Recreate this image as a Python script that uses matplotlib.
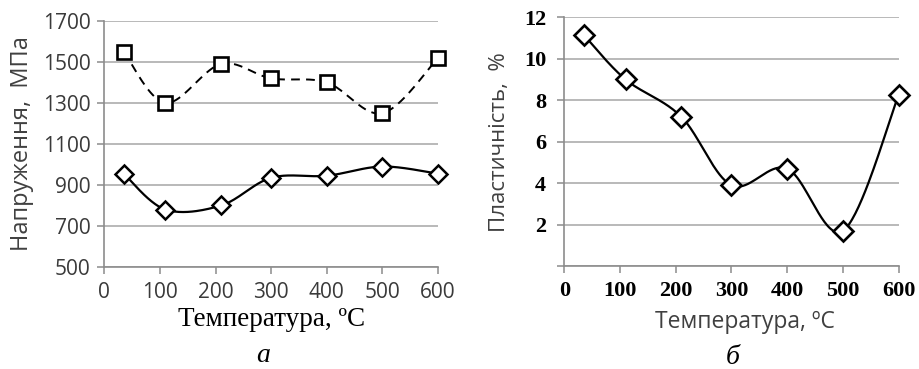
import numpy as np
import matplotlib
matplotlib.use("Agg")
import matplotlib.pyplot as plt

# ---- data ----
temps = [35, 110, 210, 300, 400, 500, 600]
strength_upper = [1550, 1300, 1490, 1420, 1400, 1250, 1520]
strength_lower = [955, 780, 800, 935, 945, 990, 955]
plasticity = [11.15, 9.0, 7.2, 3.9, 4.7, 1.7, 8.25]

x_ticks = [0, 100, 200, 300, 400, 500, 600]
y_ticks_left = [500, 700, 900, 1100, 1300, 1500, 1700]
y_ticks_right = [0, 2, 4, 6, 8, 10, 12]
y_ticklabels_right = ["", "2", "4", "6", "8", "10", "12"]


def smooth(x, y, n=40):
    """Excel-like smoothed line (Catmull-Rom as cubic Bezier)."""
    x = np.asarray(x, float)
    y = np.asarray(y, float)
    P = np.column_stack([x, y])
    pts = []
    for i in range(len(P) - 1):
        p0 = P[i - 1] if i > 0 else P[i]
        p1 = P[i]
        p2 = P[i + 1]
        p3 = P[i + 2] if i + 2 < len(P) else P[i + 1]
        c1 = p1 + (p2 - p0) / 6.0
        c2 = p2 - (p3 - p1) / 6.0
        t = np.linspace(0, 1, n)[:, None]
        seg = ((1 - t) ** 3) * p1 + 3 * ((1 - t) ** 2) * t * c1 + 3 * (1 - t) * t ** 2 * c2 + t ** 3 * p2
        pts.append(seg if i == 0 else seg[1:])
    pts = np.vstack(pts)
    return pts[:, 0], pts[:, 1]


fig = plt.figure(figsize=(9.19, 3.69), dpi=100)
fig.patch.set_facecolor("white")

grid_c = "#a6a6a6"
spine_c = "#8c8c8c"


def style_axes(ax):
    for s in ["top", "right"]:
        ax.spines[s].set_visible(False)
    for s in ["left", "bottom"]:
        ax.spines[s].set_color(spine_c)
        ax.spines[s].set_linewidth(1.2)
    ax.tick_params(axis="both", direction="out", length=5, width=1.1, color=spine_c)
    ax.yaxis.grid(True, color=grid_c, linewidth=1.1)
    ax.set_axisbelow(True)


# ---- left chart ----
ax1 = fig.add_axes([0.1135, 0.2765, 0.3631, 0.6667])
style_axes(ax1)
xs, ys = smooth(temps, strength_upper)
ax1.plot(xs, ys, color="black", lw=1.4, ls=(0, (4.5, 3.2)), zorder=3, clip_on=False)
ax1.plot(temps, strength_upper, ls="none", marker="s", ms=9.5, mfc="white",
         mec="black", mew=1.9, zorder=4, clip_on=False)
xs, ys = smooth(temps, strength_lower)
ax1.plot(xs, ys, color="black", lw=1.6, zorder=3, clip_on=False)
ax1.plot(temps, strength_lower, ls="none", marker="D", ms=9, mfc="white",
         mec="black", mew=1.8, zorder=4, clip_on=False)
ax1.set_xlim(0, 600)
ax1.set_ylim(500, 1700)
ax1.set_xticks(x_ticks)
ax1.set_yticks(y_ticks_left)
for lab in ax1.get_xticklabels() + ax1.get_yticklabels():
    lab.set_fontfamily("Open Sans")
    lab.set_fontsize(15)
    lab.set_color("#3a3a3a")
ax1.tick_params(axis="x", pad=6)
ax1.tick_params(axis="y", pad=5)
ax1.set_ylabel("Напруження,  МПа", fontfamily="Open Sans", fontsize=17,
               color="#404040", labelpad=6)
ax1.set_xlabel("Температура, ºC", fontfamily="Liberation Serif", fontsize=19.5,
               color="black", labelpad=3)
fig.text(263 / 919, 1 - 355 / 369, "а", fontfamily="Liberation Serif",
         style="italic", fontsize=20, ha="center", va="center")

# ---- right chart ----
ax2 = fig.add_axes([0.614, 0.2791, 0.3639, 0.674])
style_axes(ax2)
xs, ys = smooth(temps, plasticity)
ax2.plot(xs, ys, color="black", lw=1.6, zorder=3, clip_on=False)
ax2.plot(temps, plasticity, ls="none", marker="D", ms=10.5, mfc="white",
         mec="black", mew=1.9, zorder=4, clip_on=False)
ax2.set_xlim(0, 600)
ax2.set_ylim(0, 12)
ax2.set_xticks(x_ticks)
ax2.set_yticks(y_ticks_right)
ax2.set_yticklabels(y_ticklabels_right)
for lab in ax2.get_xticklabels() + ax2.get_yticklabels():
    lab.set_fontfamily("Liberation Serif")
    lab.set_fontweight("bold")
    lab.set_fontsize(16)
    lab.set_color("black")
ax2.tick_params(axis="x", pad=6)
ax2.tick_params(axis="y", pad=8)
ax2.set_ylabel("Пластичність,  %", fontfamily="Open Sans", fontsize=16,
               color="#404040", labelpad=10)
ax2.set_xlabel("Температура, ºC", fontfamily="Open Sans", fontsize=16.5,
               color="#404040", labelpad=2)
ax2.xaxis.set_label_coords(0.54, -0.175)
fig.text(733 / 919, 1 - 357 / 369, "б", fontfamily="Liberation Serif",
         style="italic", fontsize=20, ha="center", va="center")

fig.savefig("out.png", dpi=100, facecolor="white")
